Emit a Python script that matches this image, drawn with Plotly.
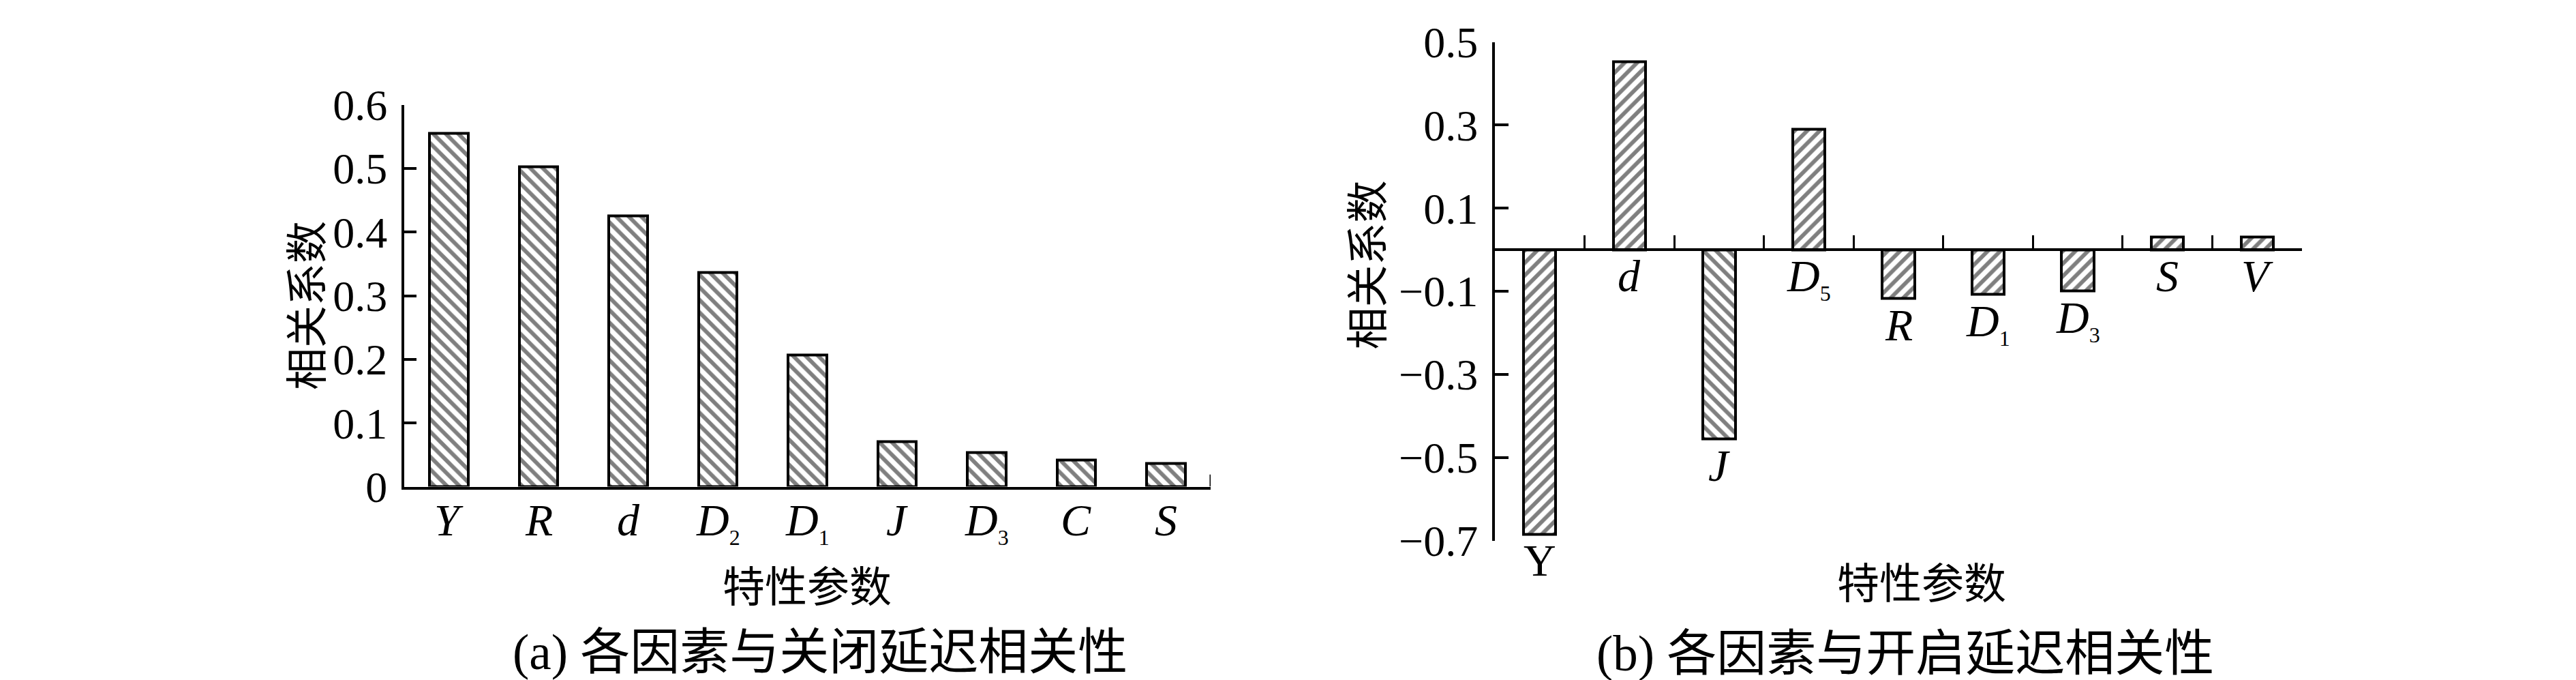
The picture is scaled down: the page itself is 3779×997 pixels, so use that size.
import plotly.graph_objects as go

W, H = 3779, 997

# (a) 各因素与关闭延迟相关性
close_params = ["Y", "R", "d", "D2", "D1", "J", "D3", "C", "S"]
close_corr = [0.555, 0.502, 0.425, 0.336, 0.207, 0.071, 0.054, 0.042, 0.036]

# (b) 各因素与开启延迟相关性
open_params = ["Y", "d", "J", "D5", "R", "D1", "D3", "S", "V"]
open_corr = [-0.685, 0.452, -0.456, 0.290, -0.118, -0.108, -0.100, 0.030, 0.030]
open_hatch = ["/", "/", "\\", "/", "/", "/", "/", "/", "/"]

y1_tickvals = [0, 0.1, 0.2, 0.3, 0.4, 0.5, 0.6]
y1_ticktext = ["0", "0.1", "0.2", "0.3", "0.4", "0.5", "0.6"]
y2_tickvals = [-0.7, -0.5, -0.3, -0.1, 0.1, 0.3, 0.5]
y2_ticktext = ["\u22120.7", "\u22120.5", "\u22120.3", "\u22120.1", "0.1", "0.3", "0.5"]

SERIF = "Liberation Serif, Times New Roman, Noto Sans CJK SC"
CJK = "Liberation Serif, Noto Sans CJK SC"


def px_x(x):
    return x / W


def px_y(y):
    return 1 - y / H


def label(p, upright=False):
    # letter in italics, trailing digit as small subscript
    if len(p) > 1 and p[-1].isdigit():
        return f"<i>{p[:-1]}</i><sub><span style='font-size:32px'>{p[-1]}</span></sub>"
    return p if upright else f"<i>{p}</i>"


fig = go.Figure()

fig.add_trace(go.Bar(
    x=close_params, y=close_corr, width=0.43,
    marker=dict(color="white", line=dict(color="black", width=4),
                pattern=dict(shape="\\", fgcolor="black", bgcolor="white", size=13, solidity=0.45)),
    xaxis="x", yaxis="y", showlegend=False,
))

fig.add_trace(go.Bar(
    x=open_params, y=open_corr, width=0.36,
    marker=dict(color="white", line=dict(color="black", width=4),
                pattern=dict(shape=open_hatch, fgcolor="black", bgcolor="white", size=13, solidity=0.45)),
    xaxis="x2", yaxis="y2", showlegend=False,
))

left_x = [px_x(585), px_x(1768)]
left_y = [px_y(722), px_y(119)]
right_x = [px_x(2185), px_x(3369)]
right_y = [px_y(807), px_y(20)]
y2_range = [-0.7, 0.5]
zero_pos = right_y[0] + (0 - y2_range[0]) / (y2_range[1] - y2_range[0]) * (right_y[1] - right_y[0])

tickfont = dict(family=SERIF, size=64, color="black")

fig.update_layout(
    width=W, height=H,
    margin=dict(l=0, r=0, t=0, b=0),
    plot_bgcolor="white", paper_bgcolor="white",
    bargap=0,
    xaxis=dict(domain=left_x, anchor="y", range=[-0.5, 8.5],
               showline=True, linecolor="black", linewidth=4,
               ticks="", showticklabels=False, showgrid=False, zeroline=False),
    yaxis=dict(domain=left_y, anchor="x", range=[0, 0.6],
               showline=True, linecolor="black", linewidth=4,
               ticks="inside", ticklen=18, tickwidth=4, tickcolor="black",
               tickvals=y1_tickvals, ticktext=y1_ticktext,
               showgrid=False, zeroline=False, tickfont=tickfont, ticklabelstandoff=8),
    xaxis2=dict(domain=right_x, anchor="free", position=zero_pos, range=[-0.5, 8.5],
                showline=True, linecolor="black", linewidth=4,
                ticks="inside", tickson="boundaries", ticklen=19, tickwidth=3, tickcolor="black",
                showticklabels=False, showgrid=False, zeroline=False),
    yaxis2=dict(domain=right_y, anchor="x2", range=y2_range,
                showline=True, linecolor="black", linewidth=4,
                ticks="inside", ticklen=20, tickwidth=4, tickcolor="black",
                tickvals=y2_tickvals, ticktext=y2_ticktext,
                showgrid=False, zeroline=False, tickfont=tickfont, ticklabelstandoff=8),
)

# end tick of the left x axis
fig.add_shape(type="line", xref="x", yref="y", x0=8.5, x1=8.5, y0=0, y1=0.019,
              line=dict(color="black", width=3))

labfont = dict(family=SERIF, size=66, color="black")

# category labels of chart (a), under the axis
for p in close_params:
    fig.add_annotation(x=p, y=0, xref="x", yref="y", text=label(p), showarrow=False,
                       yanchor="top", yshift=-10, font=labfont)

# labels under bars of chart (b)
for p, v in zip(open_params, open_corr):
    fig.add_annotation(x=p, y=min(v, 0), xref="x2", yref="y2",
                       text=label(p, upright=(p == "Y")), showarrow=False,
                       yanchor="top", yshift=0, font=labfont)

texts = [
    ("相关系数", 444, 436, 62, -90),
    ("相关系数", 2000, 372, 62, -90),
    ("特性参数", 1176, 882, 62, 0),
    ("特性参数", 2811, 876, 62, 0),
    ("(a) 各因素与关闭延迟相关性", 1195, 984, 73, 0),
    ("(b) 各因素与开启延迟相关性", 2787, 986, 73, 0),
]
for t, x, y, s, ang in texts:
    fig.add_annotation(x=px_x(x), y=px_y(y), xref="paper", yref="paper",
                       text=t, showarrow=False, textangle=ang,
                       xanchor="center", yanchor="middle",
                       font=dict(family=CJK, size=s, color="black"))

fig.write_html("out.html")
